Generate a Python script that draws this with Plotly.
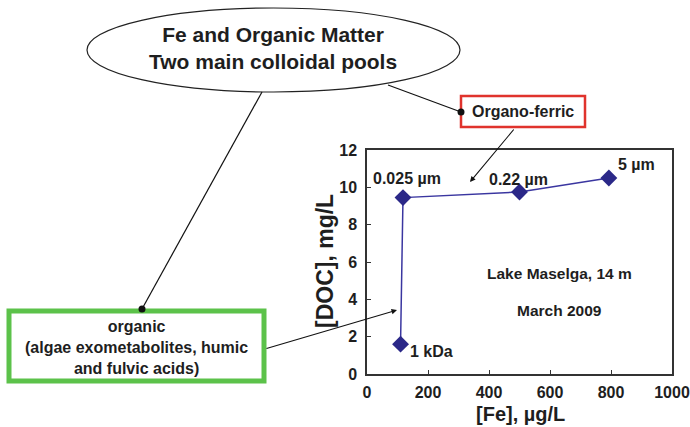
import plotly.graph_objects as go

# Data
fe = [110, 118, 500, 793]          # [Fe], µg/L
doc = [1.6, 9.45, 9.75, 10.5]      # [DOC], mg/L
point_labels = ["1 kDa", "0.025 µm", "0.22 µm", "5 µm"]
x_ticks = [0, 200, 400, 600, 800, 1000]
y_ticks = [0, 2, 4, 6, 8, 10, 12]

W, H = 690, 427
L, R, T, B = 367, 672, 150, 374
FONT = "Liberation Sans, Arial, sans-serif"
TXT = "#1e1e1e"


def px(x):
    return (x - L) / (R - L)


def py(y):
    return (B - y) / (B - T)


def text_at(x, y, text, size, angle=0):
    fig.add_annotation(x=px(x), y=py(y), xref="paper", yref="paper", text=text,
                       showarrow=False, xanchor="center", yanchor="middle",
                       textangle=angle, font=dict(size=size, color=TXT, family=FONT))


fig = go.Figure()
fig.add_trace(go.Scatter(
    x=fe, y=doc, mode="lines+markers",
    line=dict(color="#3a36a0", width=1.5),
    marker=dict(symbol="diamond", size=13, color="#2b2888"),
    showlegend=False, hoverinfo="skip", cliponaxis=False,
))

# point labels (offset from their data points)
offsets = [(7, -7, "left"), (4, 19, "center"), (-1, 13, "center"), (28, 14, "center")]
for xv, yv, lab, (dx, dy, anc) in zip(fe, doc, point_labels, offsets):
    fig.add_annotation(x=xv, y=yv, xref="x", yref="y", text=f"<b>{lab}</b>",
                       showarrow=False, xshift=dx, yshift=dy, xanchor=anc, yanchor="middle",
                       font=dict(size=16, color=TXT, family=FONT))

text_at(559, 273, "<b>Lake Maselga, 14 m</b>", 15.5)
text_at(559, 310, "<b>March 2009</b>", 15.5)

shapes = []
# ellipse
shapes.append(dict(type="circle", xref="paper", yref="paper",
                   x0=px(87), x1=px(460), y0=py(8), y1=py(92),
                   line=dict(color="#222", width=1.2), fillcolor="white"))
# connector lines from ellipse
shapes.append(dict(type="line", xref="paper", yref="paper",
                   x0=px(262), y0=py(92), x1=px(142), y1=py(309),
                   line=dict(color="#111", width=1.2)))
shapes.append(dict(type="line", xref="paper", yref="paper",
                   x0=px(388), y0=py(85), x1=px(461), y1=py(112),
                   line=dict(color="#111", width=1.2)))
# red box
shapes.append(dict(type="rect", xref="paper", yref="paper",
                   x0=px(461), x1=px(585), y0=py(96), y1=py(127),
                   line=dict(color="#e0332c", width=2.5), fillcolor="white"))
# green box
shapes.append(dict(type="rect", xref="paper", yref="paper",
                   x0=px(9), x1=px(264), y0=py(311), y1=py(381),
                   line=dict(color="#5cc24a", width=5), fillcolor="white"))
# dots
for cx, cy in [(142, 309), (461, 112)]:
    shapes.append(dict(type="circle", xref="paper", yref="paper",
                       x0=px(cx - 3.5), x1=px(cx + 3.5), y0=py(cy - 3.5), y1=py(cy + 3.5),
                       line=dict(color="#111", width=0), fillcolor="#111", layer="above"))

text_at(273, 48, "<b>Fe and Organic Matter<br>Two main colloidal pools</b>", 21)
text_at(523, 112, "<b>Organo-ferric</b>", 16)
text_at(136, 347, "<b>organic<br>(algae exometabolites, humic<br>and fulvic acids)</b>", 16)

# axis titles
text_at(520, 414, "<b>[Fe], µg/L</b>", 20)
text_at(325, 261, "<b>[DOC], mg/L</b>", 23, angle=-90)

# arrows
fig.add_annotation(x=px(470), y=py(182), xref="paper", yref="paper",
                   ax=515 - 470, ay=128 - 182, axref="pixel", ayref="pixel",
                   text="", showarrow=True, arrowhead=2, arrowsize=1, arrowwidth=1.1,
                   arrowcolor="#111")
fig.add_annotation(x=px(397), y=py(310), xref="paper", yref="paper",
                   ax=265 - 397, ay=349 - 310, axref="pixel", ayref="pixel",
                   text="", showarrow=True, arrowhead=2, arrowsize=1, arrowwidth=1.1,
                   arrowcolor="#111")

axis_common = dict(showgrid=False, zeroline=False, showline=True, mirror=True,
                   linecolor="#333", linewidth=1.5, ticks="inside", ticklen=4,
                   tickwidth=1.3, tickcolor="#333", automargin=False,
                   tickfont=dict(size=16, color=TXT, family=FONT))

fig.update_layout(
    width=W, height=H,
    margin=dict(l=L, r=W - R, t=T, b=H - B),
    paper_bgcolor="white", plot_bgcolor="white",
    shapes=shapes,
    xaxis=dict(range=[0, 1000], tickvals=x_ticks, ticktext=[f"<b>{v}</b>" for v in x_ticks],
               ticklabelstandoff=3, **axis_common),
    yaxis=dict(range=[0, 12], tickvals=y_ticks, ticktext=[f"<b>{v}</b>" for v in y_ticks],
               ticklabelstandoff=5, **axis_common),
)

fig.write_html("out.html")
